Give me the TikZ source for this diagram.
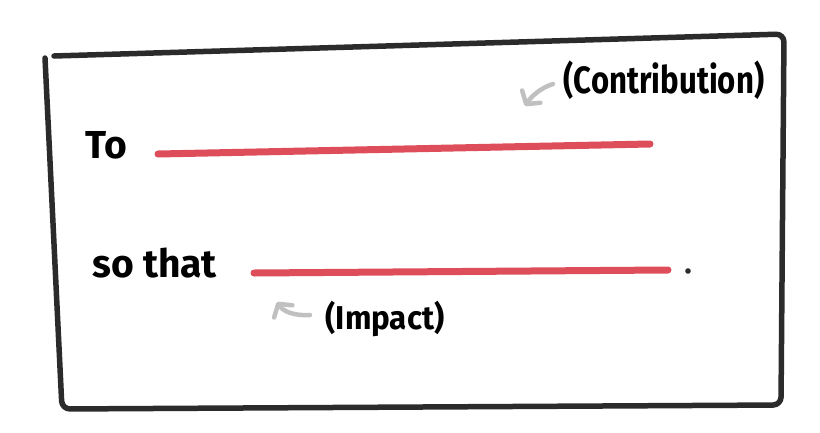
\documentclass[tikz,border=0pt]{standalone}
\usepackage{fontspec}
\setmainfont{Fira Sans}
\newfontfamily\handfont[FakeStretch=0.82]{Fira Sans}
\newfontfamily\handwide[FakeStretch=0.95]{Fira Sans}
\usetikzlibrary{arrows.meta}
\definecolor{ink}{RGB}{43,43,43}
\definecolor{blankred}{RGB}{222,78,90}
\definecolor{hintgray}{RGB}{192,192,192}

\begin{document}
\begin{tikzpicture}[x=1pt,y=-1pt]
        \tikzset{
        frame/.style={draw=ink, line width=5.5pt, line cap=round, line join=round, rounded corners=8pt},
        blank/.style={draw=blankred, line width=7pt, line cap=round},
        lbl/.style={anchor=base west, inner sep=0pt, font=\fontsize{39}{43}\selectfont\bfseries},
        note/.style={inner sep=0pt, font=\handfont\fontsize{38}{42}\selectfont\bfseries},
        hint/.style={draw=hintgray, line width=4.5pt, line cap=round, line join=round,
        -{Straight Barb[length=9pt,width=22pt,round]}}
        }
        \useasboundingbox (0,0) rectangle (820,432);
        \draw[frame] (54,56) -- (784,34) -- (781,405) -- (62,409) -- (45,58);

        \node[lbl] (to) at (85,158) {To};
        \node[lbl] (sothat) at (92,277) {so that};
        \node[note] (contrib) at (664,80) {(Contribution)};
        \node[note, font=\handwide\fontsize{33}{37}\selectfont\bfseries] (impact) at (385,319) {(Impact)};

        \coordinate (b1s) at (158,154);
        \coordinate (b1e) at (650,144);
        \coordinate (b2s) at (254,273);
        \coordinate (b2e) at (668,270);
        \draw[blank] (b1s) -- (b1e);
        \draw[blank] (b2s) -- (b2e);
        \fill[ink] (688,271) circle (2.8);

        \coordinate (c1) at (553,84);
        \coordinate (c2) at (525,106);
        \coordinate (i1) at (310,315);
        \coordinate (i2) at (277,302);
        \draw[hint] (c1) .. controls (540,88) and (531,97) .. (c2);
        \draw[hint] (i1) .. controls (293,316) and (283,311) .. (i2);
\end{tikzpicture}
\end{document}
